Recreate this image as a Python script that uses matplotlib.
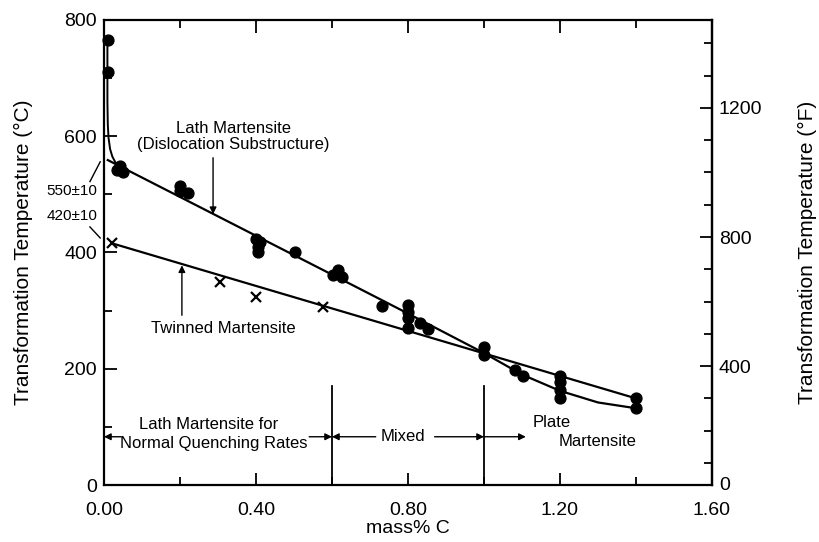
import numpy as np
import matplotlib
matplotlib.use('Agg')
from matplotlib import pyplot as plt
from matplotlib.ticker import MultipleLocator, FixedLocator

plt.rcParams['font.family'] = ['Liberation Sans', 'DejaVu Sans']

# measured points, lath martensite (filled circles)
lath_x = [0.011, 0.011, 0.033, 0.042, 0.051, 0.20, 0.20, 0.22,
          0.40, 0.41, 0.405, 0.405, 0.503, 0.603, 0.617, 0.625, 0.731,
          0.80, 0.80, 0.80, 0.80, 0.832, 0.853, 1.00, 1.00, 1.082, 1.103,
          1.20, 1.20, 1.20, 1.20, 1.40, 1.40]
lath_y = [766, 711, 542, 548, 539, 514, 505, 503,
          424, 418, 410, 401, 401, 361, 370, 358, 308,
          310, 298, 287, 270, 278, 268, 237, 224, 198, 188,
          188, 178, 163, 149, 150, 132]

# twinned martensite (crosses)
twin_x = [0.02, 0.305, 0.40, 0.577]
twin_y = [416, 349, 323, 306]

# hand-drawn curves
lath_curve_x = [0.01, 0.60, 0.80, 1.00, 1.10, 1.20, 1.30, 1.40]
lath_curve_y = [559, 362, 295, 227, 190, 162, 142, 132]
low_c_curve_x = [0.009, 0.009, 0.010, 0.012, 0.016, 0.022, 0.030, 0.045]
low_c_curve_y = [766, 660, 620, 597, 578, 565, 555, 545]
twin_line_x = [0.02, 1.40]
twin_line_y = [416, 149]

region_bounds = [0.6, 1.0]

fig = plt.figure(figsize=(8.19, 5.42), dpi=100)
ax = fig.add_axes([104/819, 1-485/542, 608/819, 465/542])

ax.plot(lath_curve_x, lath_curve_y, color='black', lw=1.6)
ax.plot(low_c_curve_x, low_c_curve_y, color='black', lw=1.4)
ax.plot(twin_line_x, twin_line_y, color='black', lw=1.6)
ax.plot(lath_x, lath_y, 'o', color='black', ms=7.8, clip_on=False)
ax.plot(twin_x, twin_y, 'x', color='black', ms=7, mew=1.6)

ax.set_xlim(0, 1.6)
ax.set_ylim(0, 800)
ax.xaxis.set_major_locator(MultipleLocator(0.4))
ax.xaxis.set_minor_locator(MultipleLocator(0.2))
ax.yaxis.set_major_locator(MultipleLocator(200))
ax.yaxis.set_minor_locator(MultipleLocator(100))
ax.xaxis.set_major_formatter(matplotlib.ticker.FormatStrFormatter('%.2f'))
ax.tick_params(which='both', direction='in', top=True, labelsize=14, width=1.3)
ax.tick_params(which='major', length=9, pad=5)
ax.tick_params(which='minor', length=6)
ax.tick_params(axis='x', which='major', pad=12)
ax.tick_params(axis='y', right=False)
for s in ax.spines.values():
    s.set_linewidth(1.6)

ax.set_xlabel('mass% C', fontsize=14, labelpad=1)
ax.set_ylabel('Transformation Temperature (\u00b0C)', fontsize=15)
ax.yaxis.set_label_coords(-0.117, 0.5)

# Fahrenheit axis on the right
ax2 = ax.secondary_yaxis('right', functions=(lambda c: c*9/5 + 32, lambda f: (f - 32)*5/9))
ax2.yaxis.set_major_locator(FixedLocator([400, 800, 1200]))
ax2.yaxis.set_minor_locator(FixedLocator([100, 200, 300, 500, 600, 700, 900, 1000, 1100, 1300, 1400]))
ax2.tick_params(which='both', direction='in', labelsize=14, width=1.3)
ax2.tick_params(which='major', length=9, pad=5)
ax2.tick_params(which='minor', length=6)
ax2.spines['right'].set_linewidth(1.6)
ax2.set_ylabel('Transformation Temperature (\u00b0F)', fontsize=15)
ax2.yaxis.set_label_coords(1.141, 0.5, transform=ax.transAxes)
ax.text(1.012, 0, '0', transform=ax.transAxes, fontsize=14, ha='left', va='center')

# region boundaries
for xb in region_bounds:
    ax.plot([xb, xb], [0, 170], color='black', lw=1.3)

afs = 12
arr = dict(arrowstyle='-|>', color='black', lw=1.0, mutation_scale=10, shrinkA=0, shrinkB=0)
ya = 83
ax.text(0.275, 104, 'Lath Martensite for', fontsize=afs, ha='center', va='center')
ax.text(0.29, 71, 'Normal Quenching Rates', fontsize=afs, ha='center', va='center')
ax.annotate('', xy=(0.0, ya), xytext=(0.045, ya), arrowprops=arr)
ax.annotate('', xy=(0.6, ya), xytext=(0.54, ya), arrowprops=arr)
ax.annotate('', xy=(0.6, ya), xytext=(0.715, ya), arrowprops=arr)
ax.text(0.787, ya, 'Mixed', fontsize=afs, ha='center', va='center')
ax.annotate('', xy=(1.0, ya), xytext=(0.87, ya), arrowprops=arr)
ax.annotate('', xy=(1.11, ya), xytext=(1.0, ya), arrowprops=arr)
ax.text(1.178, 107, 'Plate', fontsize=afs, ha='center', va='center')
ax.text(1.30, 75, 'Martensite', fontsize=afs, ha='center', va='center')

# curve labels
ax.text(0.34, 613, 'Lath Martensite', fontsize=afs, ha='center', va='center')
ax.text(0.34, 585, '(Dislocation Substructure)', fontsize=afs, ha='center', va='center')
ax.annotate('', xy=(0.287, 466), xytext=(0.287, 563), arrowprops=arr)
ax.text(0.313, 270, 'Twinned Martensite', fontsize=afs, ha='center', va='center')
ax.annotate('', xy=(0.205, 378), xytext=(0.205, 292), arrowprops=arr)

# intercept values on the left
ax.text(-0.085, 505, '550\u00b110', fontsize=11, ha='center', va='center')
ax.text(-0.085, 462, '420\u00b110', fontsize=11, ha='center', va='center')
ax.plot([-0.037, -0.010], [522, 556], color='black', lw=1.0, clip_on=False)
ax.plot([-0.037, -0.010], [444, 425], color='black', lw=1.0, clip_on=False)

fig.savefig('out.png', dpi=100)
